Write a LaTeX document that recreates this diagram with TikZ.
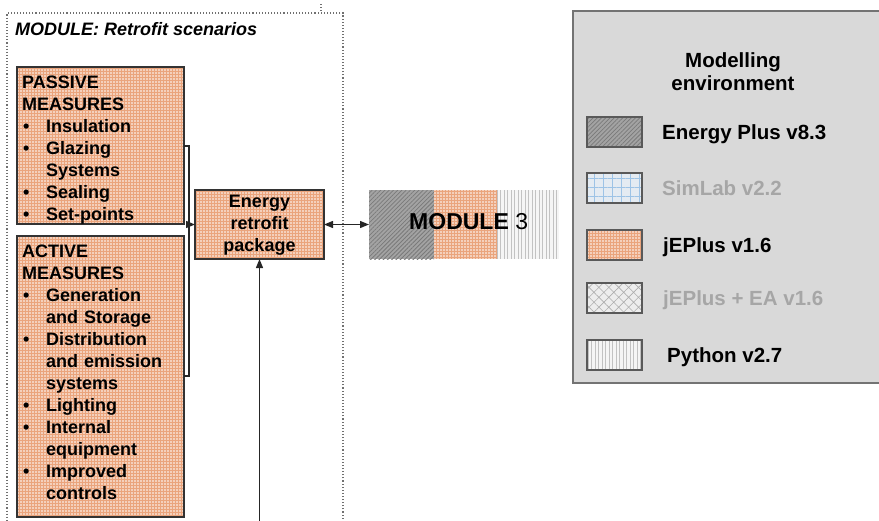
\documentclass[tikz,border=0pt]{standalone}
\usepackage{fontspec}
\setmainfont{Liberation Sans}
\usetikzlibrary{arrows.meta,patterns.meta}

\definecolor{salmon}{HTML}{EAA47C}
\definecolor{boxline}{HTML}{333333}
\definecolor{legendfill}{HTML}{D9D9D9}
\definecolor{legendline}{HTML}{737373}
\definecolor{dimtext}{HTML}{A6A6A6}
\definecolor{hatchbase}{HTML}{A3A3A3}
\definecolor{hatchline}{HTML}{7A7A7A}
\definecolor{gridbase}{HTML}{E4EBF2}
\definecolor{gridline}{HTML}{9DC3E6}
\definecolor{framegray}{HTML}{707070}

\newcommand{\itm}{\makebox[24pt][l]{\hspace*{1pt}\textbullet}}
\newcommand{\cnt}{\hspace*{24pt}}

\tikzset{
  px/.style={x=1pt,y=-1pt},
  boxfont/.style={font=\fontsize{18}{22}\bfseries\selectfont},
  legfont/.style={font=\fontsize{20.5}{23}\bfseries\selectfont},
  area/.style={rectangle,inner sep=0pt,outer sep=0pt,anchor=north west},
  jeplus/.style={preaction={fill=salmon},pattern={Dots[distance=3pt,radius=0.85pt]},pattern color=white},
  eplus/.style={preaction={fill=hatchbase},pattern={Lines[angle=45,distance=3pt,line width=0.8pt]},pattern color=hatchline},
  simlab/.style={preaction={fill=gridbase},pattern={Hatch[angle=0,distance=9pt,line width=0.8pt]},pattern color=gridline},
  jeplusea/.style={preaction={fill=black!7},pattern={Hatch[angle=45,distance=7pt,line width=0.6pt]},pattern color=black!32},
  python/.style={preaction={fill=black!4},pattern={Lines[angle=90,distance=3.5pt,line width=0.8pt]},pattern color=black!24},
  measurebox/.style={area,draw=boxline,line width=1.3pt,jeplus},
  swatch/.style={area,draw=black!65,line width=1.4pt,minimum width=55pt,minimum height=30pt},
  wire/.style={draw=black!85,line width=1.2pt},
  arrowline/.style={wire,-{Triangle[length=9pt,width=7pt]}},
  dotframe/.style={draw=framegray,line width=1.1pt,dash pattern=on 1.1pt off 2pt},
}

\begin{document}
\begin{tikzpicture}[px]
\useasboundingbox (0,0) rectangle (879,520);

% ---- retrofit scenarios module ----
\node[area,dotframe,minimum width=336pt,minimum height=520pt] (modframe) at (7,13) {};
\draw[dotframe] (321,4) -- (321,13);
\node[anchor=base west,inner sep=0pt,font=\fontsize{18}{22}\bfseries\itshape\selectfont] (modtitle) at (15,35) {MODULE: Retrofit scenarios};

% passive measures
\node[measurebox,minimum width=167pt,minimum height=157pt] (passive) at (17,67) {};
\node[boxfont,anchor=base west,inner sep=0pt,text width=160pt,align=left] (passivetext) at (22,88)
  {PASSIVE\\MEASURES\\\itm Insulation\\\itm Glazing\\\cnt Systems\\\itm Sealing\\\itm Set-points};

% active measures
\node[measurebox,minimum width=167pt,minimum height=281pt] (active) at (17,236) {};
\node[boxfont,anchor=base west,inner sep=0pt,text width=160pt,align=left] (activetext) at (22,257)
  {ACTIVE\\MEASURES\\\itm Generation\\\cnt and Storage\\\itm Distribution\\\cnt and emission\\\cnt systems\\\itm Lighting\\\itm Internal\\\cnt equipment\\\itm Improved\\\cnt controls};

% energy retrofit package
\node[measurebox,minimum width=129pt,minimum height=69pt] (retro) at (195,190) {};
\node[boxfont,anchor=base,inner sep=0pt,text width=125pt,align=center] (retrotext) at (259.5,207)
  {Energy\\retrofit\\package};

% bracket collecting both measure groups
\coordinate (brtop) at (189,146);
\coordinate (brbot) at (189,376);
\draw[wire] (passive.east |- brtop) -- (brtop) -- (brbot) -- (active.east |- brbot);
\draw[arrowline] (brtop |- retro.west) -- (retro.west);

% input from below
\coordinate (feed) at (259.5,530);
\draw[arrowline] (feed) -- (retro.south);

% ---- module 3 ----
\node[area,eplus,minimum width=65pt,minimum height=69pt] (mthreea) at (369,190) {};
\node[area,jeplus,minimum width=63pt,minimum height=69pt] (mthreeb) at (434,190) {};
\node[area,python,minimum width=62pt,minimum height=69pt] (mthreec) at (497,190) {};
\node[anchor=base west,inner sep=0pt,font=\fontsize{23}{26}\selectfont] (mthreetext) at (409,229)
  {\textbf{MODULE} 3};
\draw[wire,{Triangle[length=9pt,width=7pt]}-{Triangle[length=9pt,width=7pt]}] (retro.east) -- (mthreea.west);

% ---- legend ----
\node[area,fill=legendfill,draw=legendline,line width=1.5pt,minimum width=320pt,minimum height=372pt] (legend) at (573,11) {};
\node[legfont,anchor=base,inner sep=0pt,text width=160pt,align=center] (legtitle) at (733,67)
  {Modelling\\environment};

\node[swatch,eplus] (swa) at (587,117) {};
\node[swatch,simlab] (swb) at (587,173) {};
\node[swatch,jeplus] (swc) at (587,230) {};
\node[swatch,jeplusea] (swd) at (587,283) {};
\node[swatch,python] (swe) at (587,340) {};

\node[legfont,anchor=base west,inner sep=0pt] (laba) at (662,139) {Energy Plus v8.3};
\node[legfont,anchor=base west,inner sep=0pt,text=dimtext] (labb) at (662,195) {SimLab v2.2};
\node[legfont,anchor=base west,inner sep=0pt] (labc) at (663,252) {jEPlus v1.6};
\node[legfont,anchor=base west,inner sep=0pt,text=dimtext] (labd) at (663,305) {jEPlus + EA v1.6};
\node[legfont,anchor=base west,inner sep=0pt] (labe) at (667,362) {Python v2.7};
\end{tikzpicture}
\end{document}
